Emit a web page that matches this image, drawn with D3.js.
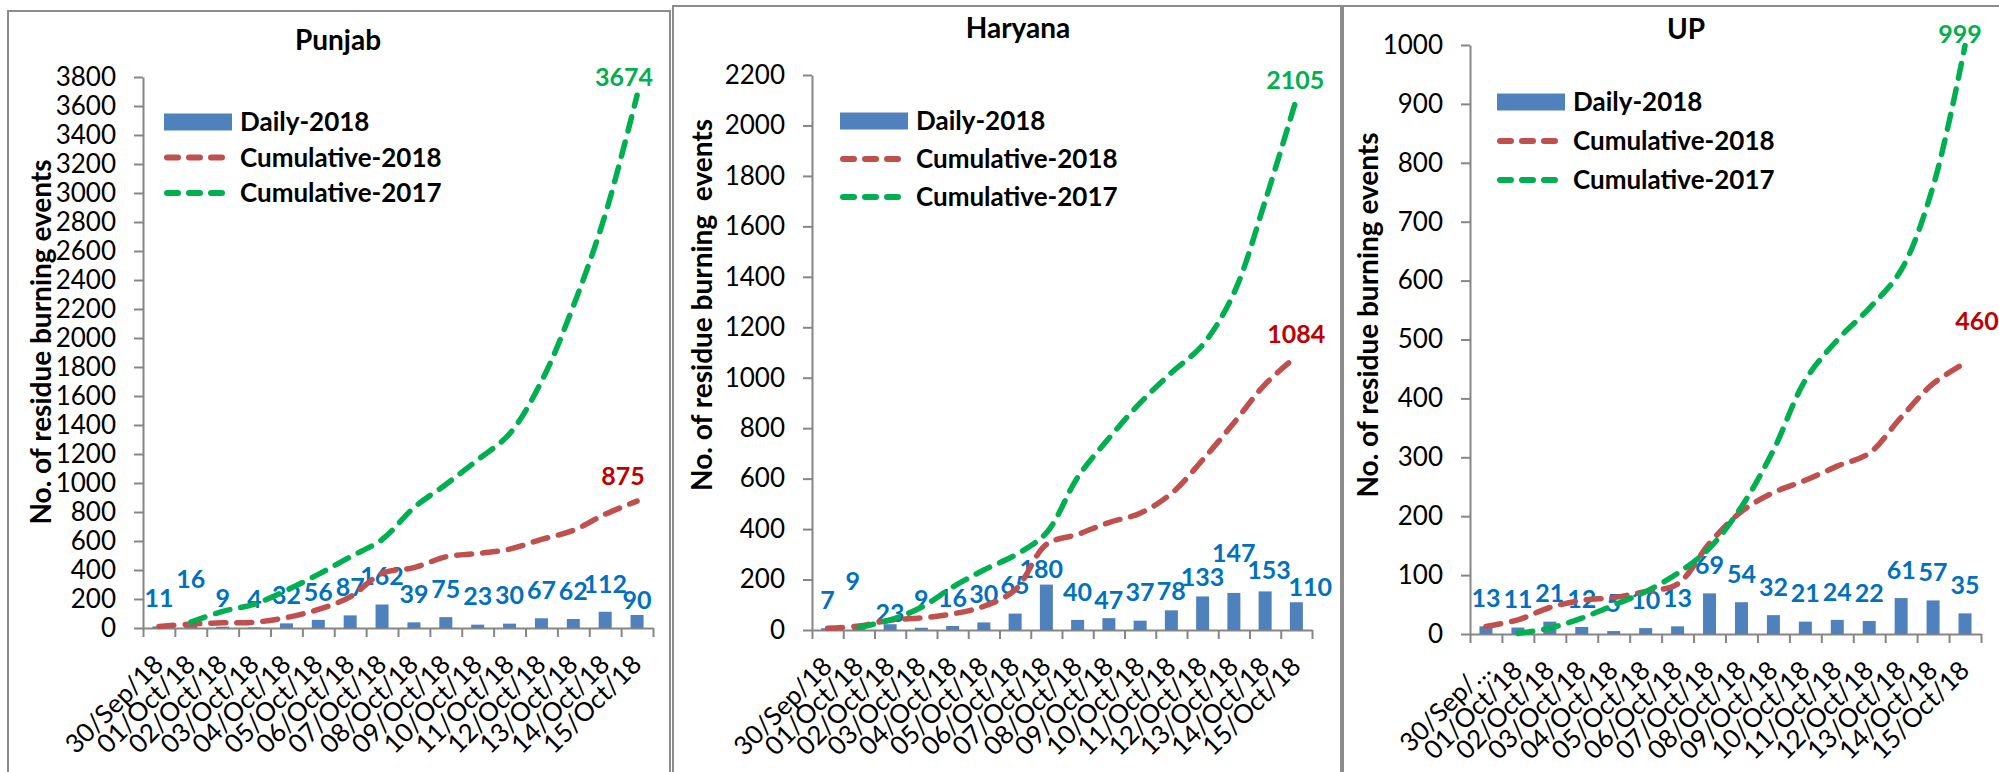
<!DOCTYPE html>
<html>
<head>
<meta charset="utf-8">
<script src="https://cdn.jsdelivr.net/npm/d3@7"></script>
<style>
    body { margin: 0; background: #fff; }
    svg { display: block; font-family: Lato, 'Open Sans', sans-serif; }
</style>
</head>
<body>
<svg id="chart" width="1999" height="772"></svg>
<script>
// dates on the x axis (same for all three states)
const dates = ['30/Sep/18', '01/Oct/18', '02/Oct/18', '03/Oct/18', '04/Oct/18', '05/Oct/18',
    '06/Oct/18', '07/Oct/18', '08/Oct/18', '09/Oct/18', '10/Oct/18', '11/Oct/18',
    '12/Oct/18', '13/Oct/18', '14/Oct/18', '15/Oct/18'];

const seriesNames = ['Daily-2018', 'Cumulative-2018', 'Cumulative-2017'];

// Punjab
const punjabDaily = [11, 16, 9, 4, 32, 56, 87, 162, 39, 75, 23, 30, 67, 62, 112, 90];
const punjabCum2018 = [11, 27, 36, 40, 72, 128, 215, 377, 416, 491, 514, 544, 611, 673, 785, 875];
const punjabCum2017 = [null, 40, 115, 165, 260, 370, 490, 610, 830, 990, 1160, 1340, 1700, 2220, 2850, 3674];

// Haryana
const haryanaDaily = [7, 9, 23, 9, 16, 30, 65, 180, 40, 47, 37, 78, 133, 147, 153, 110];
const haryanaCum2018 = [7, 16, 39, 48, 64, 94, 159, 339, 379, 426, 463, 541, 674, 821, 974, 1084];
const haryanaCum2017 = [null, 10, 40, 90, 170, 238, 297, 385, 605, 760, 900, 1020, 1130, 1335, 1700, 2105];

// UP
const upDaily = [13, 11, 21, 12, 5, 10, 13, 69, 54, 32, 21, 24, 22, 61, 57, 35];
const upCum2018 = [13, 24, 45, 57, 62, 72, 85, 154, 208, 240, 261, 285, 307, 368, 425, 460];
const upCum2017 = [null, 1, 10, 27, 49, 72, 103, 146, 216, 312, 431, 499, 553, 618, 760, 999];

// y axis extents: min, max, step
const punjabAxis = [0, 3800, 200];
const haryanaAxis = [0, 2200, 200];
const upAxis = [0, 1000, 100];

const colors = {
    bar: '#4F81BD',
    cum2018: '#C0504D',
    cum2017: '#00B050',
    barLabel: '#0070C0',
    cum2018Label: '#C00000',
    cum2017Label: '#00B050',
    axis: '#868686',
    frame: '#8c8c8c'
};

class BurningChart {
    constructor(svg, cfg) {
        this.cfg = cfg;
        this.g = svg.append('g');
        this.initScales();
        this.drawFrame();
        this.drawAxes();
        this.drawBars();
        this.drawLines();
        this.drawEndLabels();
        this.drawLegend();
    }

    // band scale for the dates, linear scale for the counts
    initScales() {
        const c = this.cfg;
        this.x = d3.scaleBand()
            .domain(d3.range(c.daily.length))
            .range([c.plot.left, c.plot.right]);
        this.xEdge = d3.scaleLinear()
            .domain([0, c.daily.length])
            .range([c.plot.left, c.plot.right]);
        this.y = d3.scaleLinear()
            .domain([c.axis[0], c.axis[1]])
            .range([c.plot.bottom, c.plot.top]);
        this.cx = (i) => this.x(i) + this.x.bandwidth() / 2;
    }

    // grey box round each chart plus the titles
    drawFrame() {
        const c = this.cfg;
        this.g.append('rect')
            .attr('x', c.frame.x).attr('y', c.frame.y)
            .attr('width', c.frame.w).attr('height', c.frame.h)
            .attr('fill', '#fff')
            .attr('stroke', colors.frame)
            .attr('stroke-width', 2);

        this.g.append('text')
            .attr('x', c.title.x).attr('y', c.title.y)
            .attr('text-anchor', 'middle')
            .attr('font-size', 28).attr('font-weight', 'bold')
            .text(c.title.text);

        this.g.append('text')
            .attr('transform', `translate(${c.yTitle.x},${c.yTitle.y}) rotate(-90)`)
            .attr('text-anchor', 'middle')
            .attr('font-size', 28).attr('font-weight', 'bold')
            .style('white-space', 'pre')
            .text(c.yTitle.text);
    }

    drawAxes() {
        const c = this.cfg;

        // y axis
        const yAxis = this.g.append('g')
            .attr('transform', `translate(${c.plot.left},0)`)
            .call(d3.axisLeft(this.y)
                .tickValues(d3.range(c.axis[0], c.axis[1] + 1, c.axis[2]))
                .tickFormat(d3.format('d'))
                .tickSize(9).tickSizeOuter(0).tickPadding(18));
        yAxis.selectAll('text').attr('font-size', 26).attr('fill', '#000');

        // x axis: tick marks sit between the dates
        const xAxis = this.g.append('g')
            .attr('transform', `translate(0,${c.plot.bottom})`)
            .call(d3.axisBottom(this.xEdge)
                .tickValues(d3.range(c.daily.length + 1))
                .tickSize(9).tickSizeOuter(0).tickFormat(''));

        // rotated date labels
        const labels = this.g.append('g')
            .attr('transform', `translate(0,${c.plot.bottom})`)
            .call(d3.axisBottom(this.x).tickSize(0).tickFormat((i) => c.dateLabels[i]));
        labels.select('.domain').remove();
        labels.selectAll('text')
            .attr('font-size', 26).attr('fill', '#000')
            .attr('text-anchor', 'end')
            .attr('y', 0).attr('dy', 0)
            .attr('transform', 'translate(6,38) rotate(-45)');

        [yAxis, xAxis, labels].forEach((a) => {
            a.attr('font-family', null);
            a.selectAll('.domain, line').attr('stroke', colors.axis).attr('stroke-width', 2);
        });
    }

    drawBars() {
        const c = this.cfg;
        const barW = 13;
        this.g.append('g')
            .selectAll('rect')
            .data(c.daily)
            .join('rect')
            .attr('x', (d, i) => this.cx(i) - barW / 2)
            .attr('y', (d) => this.y(d))
            .attr('width', barW)
            .attr('height', (d) => this.y(0) - this.y(d))
            .attr('fill', colors.bar);

        // value labels above the bars, some moved by hand in the original
        this.g.append('g')
            .selectAll('text')
            .data(c.daily)
            .join('text')
            .attr('x', (d, i) => this.cx(i) + (c.barNudge[i] ? c.barNudge[i][0] : 0))
            .attr('y', (d, i) => this.y(d) - 28 + (c.barNudge[i] ? c.barNudge[i][1] : 0))
            .attr('dy', '0.35em')
            .attr('text-anchor', 'middle')
            .attr('font-size', 25).attr('font-weight', 'bold')
            .attr('fill', colors.barLabel)
            .text((d) => d);
    }

    drawLines() {
        const c = this.cfg;
        const line = d3.line()
            .defined((d) => d != null)
            .x((d, i) => this.cx(i))
            .y((d) => this.y(d))
            .curve(d3.curveCatmullRom);

        [[c.cum2018, colors.cum2018], [c.cum2017, colors.cum2017]].forEach(([vals, col]) => {
            this.g.append('path')
                .datum(vals)
                .attr('d', line)
                .attr('fill', 'none')
                .attr('stroke', col)
                .attr('stroke-width', 5.5)
                .attr('stroke-linecap', 'round')
                .attr('stroke-dasharray', '15 11');
        });
    }

    // totals written at the end of both cumulative lines
    drawEndLabels() {
        const c = this.cfg;
        const last = c.daily.length - 1;
        [[c.cum2018, c.end2018, colors.cum2018Label], [c.cum2017, c.end2017, colors.cum2017Label]]
            .forEach(([vals, off, col]) => {
                this.g.append('text')
                    .attr('x', this.cx(last) + off[0])
                    .attr('y', this.y(vals[last]) + off[1])
                    .attr('text-anchor', 'middle')
                    .attr('font-size', 25).attr('font-weight', 'bold')
                    .attr('fill', col)
                    .text(vals[last]);
            });
    }

    drawLegend() {
        const c = this.cfg;
        const lg = this.g.append('g').attr('transform', `translate(${c.legend.x},${c.legend.y})`);
        seriesNames.forEach((name, k) => {
            const row = lg.append('g').attr('transform', `translate(0,${k * c.legend.gap})`);
            if (k === 0) {
                row.append('rect')
                    .attr('x', 0).attr('y', -8.5)
                    .attr('width', 68).attr('height', 17)
                    .attr('fill', colors.bar);
            } else {
                row.append('line')
                    .attr('x1', 3).attr('x2', 64)
                    .attr('stroke', k === 1 ? colors.cum2018 : colors.cum2017)
                    .attr('stroke-width', 6)
                    .attr('stroke-linecap', 'round')
                    .attr('stroke-dasharray', '11 11');
            }
            row.append('text')
                .attr('x', 76).attr('dy', '0.35em')
                .attr('font-size', 26).attr('font-weight', 'bold')
                .text(name);
        });
    }
}

const svg = d3.select('#chart');

new BurningChart(svg, {
    daily: punjabDaily, cum2018: punjabCum2018, cum2017: punjabCum2017,
    dateLabels: dates, axis: punjabAxis,
    frame: { x: 8, y: 11, w: 662, h: 800 },
    plot: { left: 143, right: 653, top: 77, bottom: 628 },
    title: { text: 'Punjab', x: 338, y: 50 },
    yTitle: { text: 'No. of residue burning events', x: 51, y: 342 },
    legend: { x: 164, y: 122, gap: 35.5 },
    barNudge: { 1: [0, -18], 15: [0, 13] },
    end2018: [-14, -16], end2017: [-13, -9]
});

new BurningChart(svg, {
    daily: haryanaDaily, cum2018: haryanaCum2018, cum2017: haryanaCum2017,
    dateLabels: dates, axis: haryanaAxis,
    frame: { x: 673, y: 6, w: 668, h: 800 },
    plot: { left: 812, right: 1312, top: 75, bottom: 630 },
    title: { text: 'Haryana', x: 1018, y: 38 },
    yTitle: { text: 'No. of residue burning  events', x: 712, y: 305 },
    legend: { x: 840, y: 121, gap: 38 },
    barNudge: { 1: [-6, -18], 2: [0, 17], 7: [-5, 13], 9: [0, 10], 11: [0, 9], 12: [0, 9], 13: [0, -12], 14: [4, 7], 15: [14, 13] },
    end2018: [0, -14], end2017: [-1, -10]
});

new BurningChart(svg, {
    daily: upDaily, cum2018: upCum2018, cum2017: upCum2017,
    dateLabels: dates.map((d, i) => (i === 0 ? '30/Sep/\u2026' : d)), axis: upAxis,
    frame: { x: 1343, y: 6, w: 700, h: 800 },
    plot: { left: 1470, right: 1981, top: 45, bottom: 634 },
    title: { text: 'UP', x: 1686, y: 39 },
    yTitle: { text: 'No. of residue burning events', x: 1378, y: 315 },
    legend: { x: 1497, y: 102, gap: 39 },
    barNudge: {},
    end2018: [12, -33], end2017: [-5, -3]
});
</script>
</body>
</html>
